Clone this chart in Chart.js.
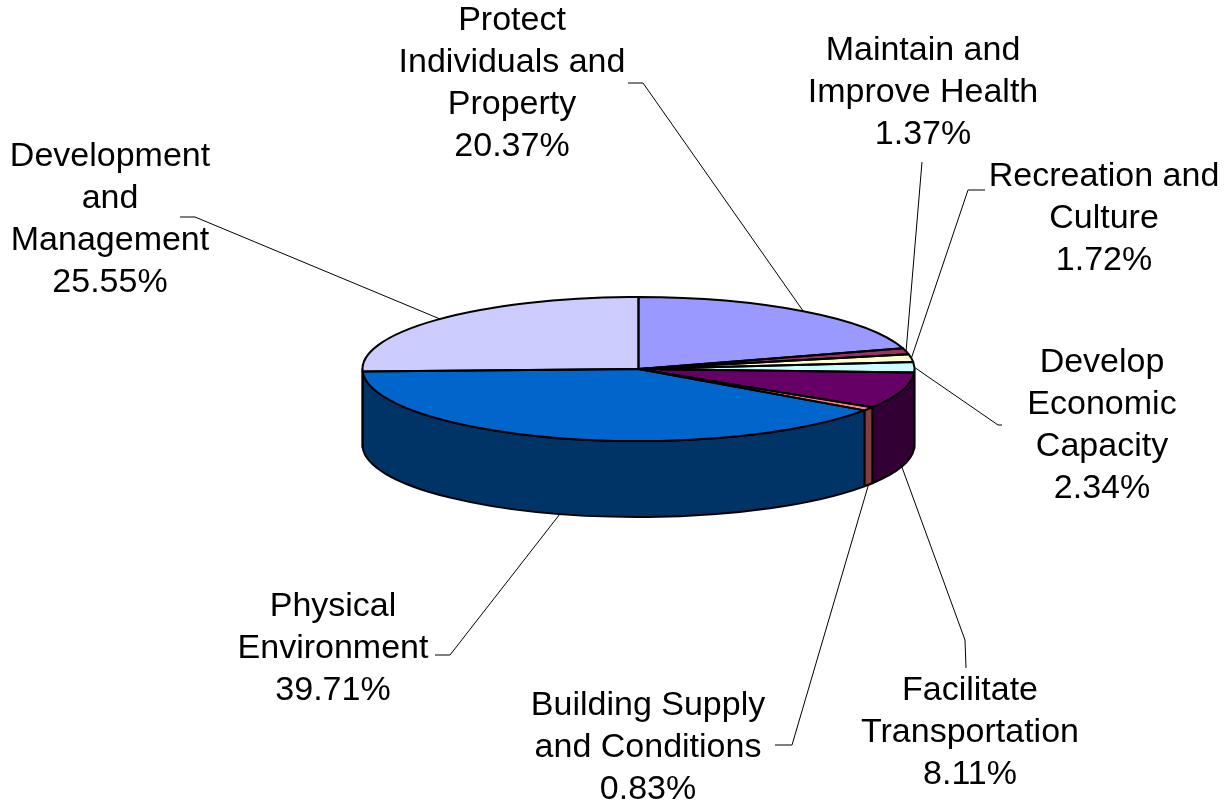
<!DOCTYPE html>
<html>
<head>
<meta charset="utf-8">
<script src="https://cdn.jsdelivr.net/npm/chart.js@4.4.1/dist/chart.umd.min.js"></script>
<style>
  body { margin: 0; background: #fff; }
  #box { width: 1225px; height: 804px; }
</style>
</head>
<body>
<div id="box"><canvas id="budget-pie" width="1225" height="804"></canvas></div>
<script>
// slices, clockwise from 12 o'clock
const categories = [
    "Protect Individuals and Property",
    "Maintain and Improve Health",
    "Recreation and Culture",
    "Develop Economic Capacity",
    "Facilitate Transportation",
    "Building Supply and Conditions",
    "Physical Environment",
    "Development and Management"
]
const shares = [20.37, 1.37, 1.72, 2.34, 8.11, 0.83, 39.71, 25.55]
const labelLines = [
    ["Protect", "Individuals and", "Property"],
    ["Maintain and", "Improve Health"],
    ["Recreation and", "Culture"],
    ["Develop", "Economic", "Capacity"],
    ["Facilitate", "Transportation"],
    ["Building Supply", "and Conditions"],
    ["Physical", "Environment"],
    ["Development", "and", "Management"]
]

const topColors  = ["#9999FF", "#993366", "#FFFFCC", "#CCFFFF", "#660066", "#FF8080", "#0066CC", "#CCCCFF"]
const sideColors = ["#4C4C80", "#4C1933", "#808066", "#668080", "#330033", "#804040", "#003366", "#666680"]

// label placement: centre x, first line centre y, leader elbow and end
const labelLayout = [
    {x: 512,  y: 21,  elbow: [643, 83],  end: [628, 83]},
    {x: 923,  y: 51,  elbow: [922, 162], end: null},
    {x: 1104, y: 177, elbow: [968, 190], end: [985, 190]},
    {x: 1102, y: 363, elbow: [998, 425], end: [1002, 425]},
    {x: 970,  y: 691, elbow: [965, 640], end: [966, 668]},
    {x: 648,  y: 706, elbow: [792, 745], end: [775, 745]},
    {x: 333,  y: 607, elbow: [450, 655], end: [435, 655]},
    {x: 110,  y: 157, elbow: [195, 217], end: [180, 217]}
]

const tilt = 72 / 276   // squash of the top face
const depth = 76        // height of the wall
const lineGap = 42
const labelFont = "34px 'Liberation Sans', Arial, sans-serif"

function ellPoint(arc, a, dy){
    return [arc.x + arc.outerRadius * Math.cos(a), arc.y + arc.outerRadius * tilt * Math.sin(a) + (dy || 0)]
}

const pie3d = {
    id: "pie3d",
    beforeDatasetsDraw(chart){
        const ctx = chart.ctx
        const arcs = chart.getDatasetMeta(0).data
        const cy = arcs[0].y
        const rx = arcs[0].outerRadius
        const ry = rx * tilt
        ctx.save()
        // front walls
        arcs.forEach((arc, i) => {
            const s = Math.max(arc.startAngle, 0)
            const e = Math.min(arc.endAngle, Math.PI)
            if (e <= s) return
            ctx.beginPath()
            ctx.ellipse(arc.x, cy, rx, ry, 0, s, e)
            const p = ellPoint(arc, e, depth)
            ctx.lineTo(p[0], p[1])
            ctx.ellipse(arc.x, cy + depth, rx, ry, 0, e, s, true)
            ctx.closePath()
            ctx.fillStyle = sideColors[i]
            ctx.fill()
            ctx.lineWidth = 2
            ctx.strokeStyle = "#000"
            ctx.lineJoin = "round"
            ctx.stroke()
        })
        // squash the library's own slices into the top face
        ctx.translate(0, cy)
        ctx.scale(1, tilt)
        ctx.translate(0, -cy)
    },
    afterDatasetsDraw(chart){
        const ctx = chart.ctx
        ctx.restore()
        const arcs = chart.getDatasetMeta(0).data
        const cy = arcs[0].y
        const rx = arcs[0].outerRadius
        const ry = rx * tilt
        ctx.save()
        ctx.lineWidth = 2
        ctx.strokeStyle = "#000"
        ctx.lineJoin = "round"
        arcs.forEach(arc => {
            ctx.beginPath()
            ctx.moveTo(arc.x, cy)
            ctx.ellipse(arc.x, cy, rx, ry, 0, arc.startAngle, arc.endAngle)
            ctx.closePath()
            ctx.stroke()
        })

        // leaders and labels
        ctx.lineWidth = 1
        ctx.font = labelFont
        ctx.fillStyle = "#000"
        ctx.textAlign = "center"
        ctx.textBaseline = "middle"
        arcs.forEach((arc, i) => {
            const mid = (arc.startAngle + arc.endAngle) / 2
            const front = Math.sin(mid) > 0.05
            const p = ellPoint(arc, mid, front ? depth : 0)
            const lay = labelLayout[i]
            ctx.beginPath()
            ctx.moveTo(p[0], p[1])
            ctx.lineTo(lay.elbow[0], lay.elbow[1])
            if (lay.end) ctx.lineTo(lay.end[0], lay.end[1])
            ctx.stroke()
            const lines = labelLines[i].concat([shares[i].toFixed(2) + "%"])
            lines.forEach((t, k) => ctx.fillText(t, lay.x, lay.y + k * lineGap))
        })
        ctx.restore()
    }
}

new Chart("budget-pie", {
    type: "pie",
    data: {
        labels: categories,
        datasets: [{
            data: shares,
            backgroundColor: topColors,
            borderWidth: 0,
            hoverOffset: 0
        }]
    },
    options: {
        responsive: false,
        animation: false,
        events: [],
        radius: 276,
        layout: { padding: { left: 52, right: 0, top: 0, bottom: 66 } },
        plugins: {
            legend: { display: false },
            tooltip: { enabled: false }
        }
    },
    plugins: [pie3d]
});
</script>
</body>
</html>
